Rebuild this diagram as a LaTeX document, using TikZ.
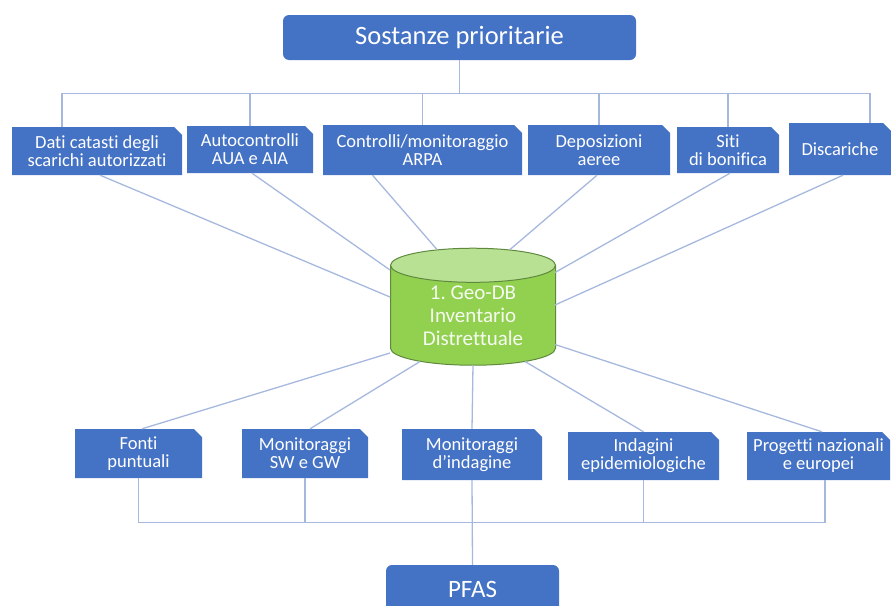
\documentclass[tikz,border=0pt]{standalone}
\usepackage{fontspec}
\setmainfont{Carlito}[Ligatures=NoCommon]
\usetikzlibrary{shapes.geometric,shapes.misc,calc}
\definecolor{boxblue}{HTML}{4472C4}
\definecolor{linkblue}{HTML}{A7B8DE}
\definecolor{dbgreen}{HTML}{92D050}
\definecolor{dbtop}{HTML}{B9E193}
\definecolor{dbedge}{HTML}{5F8A3E}
\tikzset{
  head/.style={rectangle, rounded corners=6pt, fill=boxblue, text=white, inner sep=0pt},
  src/.style={chamfered rectangle, chamfered rectangle corners=north east,
    chamfered rectangle sep=4pt, fill=boxblue, text=white, inner sep=0pt,
    align=center, font=\fontsize{18.5}{18}\selectfont},
  link/.style={draw=linkblue, line width=1.3pt}
}
\frenchspacing
\begin{document}
\begin{tikzpicture}[x=1pt, y=-1pt]
  \useasboundingbox (0,0) rectangle (891,605);

  \node[head, minimum width=353pt, minimum height=45pt, font=\fontsize{26.5}{30}\selectfont]
    (top) at (459.5,37.5) {Sostanze prioritarie};

  % fonti in alto
  \node[src, minimum width=170pt, minimum height=48pt] (dati) at (97,151) {Dati catasti degli\\scarichi autorizzati};
  \node[src, minimum width=126pt, minimum height=47pt] (auto) at (250,149.5) {Autocontrolli\\AUA e AIA};
  \node[src, minimum width=199pt, minimum height=50pt] (ctrl) at (422.5,150) {Controlli/monitoraggio\\ARPA};
  \node[src, minimum width=142pt, minimum height=50pt] (depo) at (599,150) {Deposizioni\\aeree};
  \node[src, minimum width=102pt, minimum height=46pt] (siti) at (728,150) {Siti\\di bonifica};
  \node[src, minimum width=102pt, minimum height=52pt] (disc) at (840,149) {Discariche};

  \node[cylinder, shape border rotate=90, aspect=0.34, draw=dbedge, line width=1pt,
    cylinder uses custom fill, cylinder body fill=dbgreen, cylinder end fill=dbtop,
    minimum width=165pt, minimum height=117pt, inner sep=0pt, align=center,
    text=white!92!dbgreen, font=\fontsize{21}{23}\selectfont]
    (db) at (473,315.5) {1. Geo-DB\\Inventario\\Distrettuale};

  % fonti in basso
  \node[src, minimum width=127pt, minimum height=49pt] (fonti) at (138.5,453.5) {Fonti\\puntuali};
  \node[src, minimum width=126pt, minimum height=49pt] (sw) at (305,453.5) {Monitoraggi\\SW e GW};
  \node[src, minimum width=140pt, minimum height=51pt] (indag) at (472,454.5) {Monitoraggi\\d’indagine};
  \node[src, minimum width=151pt, minimum height=48pt] (epid) at (643.5,456) {Indagini\\epidemiologiche};
  \node[src, minimum width=143pt, minimum height=48pt] (proj) at (818.5,456) {Progetti nazionali\\e europei};

  \node[head, minimum width=173pt, minimum height=48pt, font=\fontsize{25}{28}\selectfont]
    (pfas) at (472.5,589) {PFAS};

  % albero in alto
  \draw[link] (top.south) -- ++(0,33) coordinate (bus);
  \draw[link] ([xshift=-35pt]dati.north) |- (bus) -| ([xshift=30pt]disc.north);
  \foreach \n in {auto,ctrl,depo,siti}
    \draw[link] (\n.north) -- (\n.north |- bus);

  % raggi verso il Geo-DB
  \draw[link] ([xshift=3pt]dati.south) -- ($(db.center)+(-83,-18.5)$);
  \draw[link] ([xshift=2pt]auto.south) -- ($(db.center)+(-83,-45.5)$);
  \draw[link] ([xshift=-50pt]ctrl.south) -- ($(db.center)+(-36,-66)$);
  \draw[link] ([xshift=-2pt]depo.south) -- ($(db.center)+(37,-66)$);
  \draw[link] ([xshift=2pt]siti.south) -- ($(db.center)+(82,-43)$);
  \draw[link] ([xshift=3pt]disc.south) -- ($(db.center)+(82,-10.5)$);

  \draw[link] ($(db.center)+(-83,37.5)$) -- ([xshift=3.5pt]fonti.north);
  \draw[link] ($(db.center)+(-53,46)$) -- ([xshift=5pt]sw.north);
  \draw[link] ($(db.center)+(0,49.5)$) -- (indag.north);
  \draw[link] ($(db.center)+(52,46)$) -- (epid.north);
  \draw[link] ($(db.center)+(82,29)$) -- ([xshift=3.5pt]proj.north);

  % albero in basso
  \coordinate (pbus) at ($(indag.south)!0.5!(pfas.north)$);
  \draw[link] (fonti.south) |- (pbus) -| ([xshift=6.5pt]proj.south);
  \foreach \n in {sw,epid}
    \draw[link] (\n.south) -- (\n.south |- pbus);
  \draw[link] (indag.south) -- (pfas.north);
\end{tikzpicture}
\end{document}
